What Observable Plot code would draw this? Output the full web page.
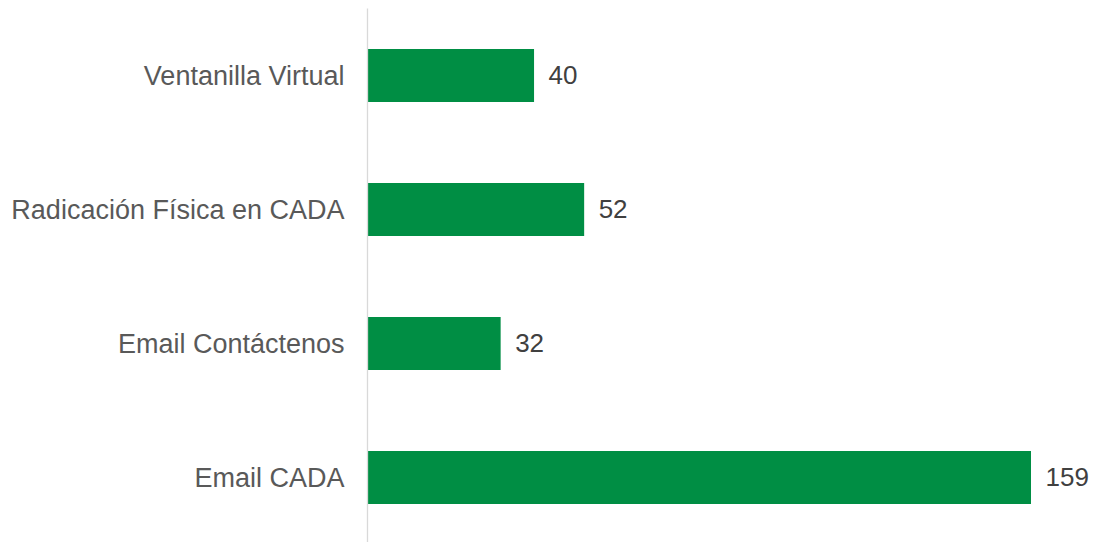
<!DOCTYPE html>
<html>
<head>
<meta charset="utf-8">
<script src="https://cdn.jsdelivr.net/npm/d3@7"></script>
<script src="https://cdn.jsdelivr.net/npm/@observablehq/plot@0.6"></script>
<style>
  html, body { margin: 0; padding: 0; background: #fff; }
</style>
</head>
<body>
<div id="chart"></div>
<script>
const categories = ["Ventanilla Virtual", "Radicación Física en CADA", "Email Contáctenos", "Email CADA"];
const values = [40, 52, 32, 159];

const data = categories.map((c, i) => ({category: c, value: values[i]}));

const chart = Plot.plot({
  width: 1096,
  height: 542,
  marginLeft: 367,
  marginRight: 65,
  marginTop: 8.5,
  marginBottom: -2.5,
  style: {fontFamily: "'Liberation Sans', Arial, sans-serif", background: "#fff", color: "#595959", overflow: "visible"},
  x: {domain: [0, 159], axis: null},
  y: {domain: categories, paddingInner: 0.604, paddingOuter: 0.302, label: null},
  marks: [
    Plot.barX(data, {y: "category", x: "value", fill: "#008E44"}),
    Plot.ruleX([0], {stroke: "#d9d9d9", strokeWidth: 1.3}),
    Plot.text(data, {y: "category", x: "value", text: d => String(d.value), textAnchor: "start", dx: 14, fontSize: 26, fill: "#404040"}),
    Plot.axisY({tickSize: 0, tickPadding: 23, fontSize: 27, fill: "#595959", label: null})
  ]
});
document.getElementById("chart").appendChild(chart);
</script>
</body>
</html>
